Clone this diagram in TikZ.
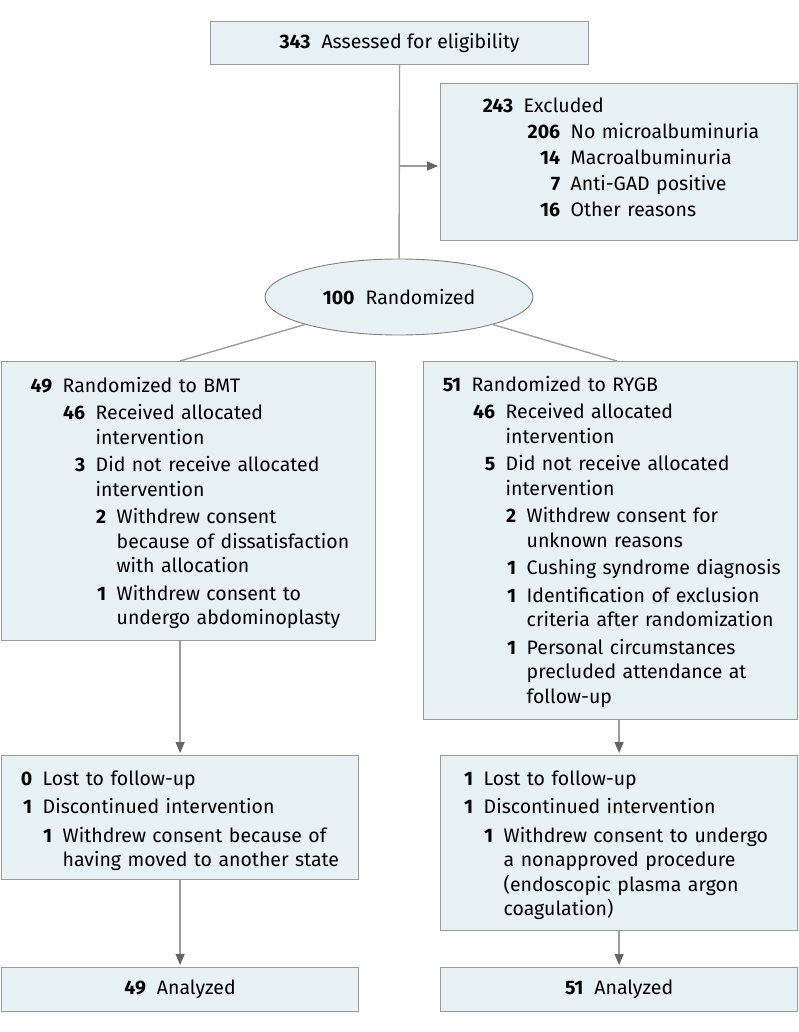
\documentclass[tikz,border=0pt]{standalone}
\usepackage{fontspec}
\setmainfont{Fira Sans}
\usetikzlibrary{shapes.geometric,arrows.meta}

\definecolor{boxfill}{HTML}{E8F1F4}
\definecolor{boxline}{HTML}{9A9A9A}
\definecolor{linkline}{HTML}{9E9E9E}
\definecolor{tipgray}{HTML}{656565}

\newcommand{\numgap}{10.5pt}
\newcommand{\entgap}{3pt}
% one counted line: right edge of the number, number, text
\newcommand{\ent}[3]{\hangindent=\dimexpr#1pt+\numgap\relax\hangafter=1%
  \noindent\hbox to #1pt{\hfill\bfseries #2}\hspace{\numgap}\ignorespaces#3\par\vspace{\entgap}}

\tikzset{
  box/.style={draw=boxline, fill=boxfill, line width=1.2pt, inner sep=0pt, anchor=north west},
  oval/.style={ellipse, draw=gray, fill=boxfill, line width=0.9pt, inner sep=0pt},
  txt/.style={inner sep=0pt, anchor=base west, align=left},
  link/.style={draw=linkline, line width=1.4pt},
  arr/.style={link, -{Triangle[length=11pt,width=9pt,color=tipgray]}, shorten >=2pt},
}

\begin{document}
\begin{tikzpicture}[x=1pt, y=-1pt, font=\fontsize{19.5}{24.5}\selectfont]
\useasboundingbox (0,0) rectangle (798,1032);

\node[box, minimum width=378, minimum height=43] (top) at (210,21) {\textbf{343}\hspace{11pt}Assessed for eligibility};
\node[box, minimum width=357, minimum height=157] (excl) at (440,83) {};
\node[txt, text width=350] (excl-t) at ([yshift=-30]excl.north west) {%
\renewcommand{\entgap}{1.5pt}%
\ent{73}{243}{Excluded}
\ent{120}{206}{No microalbuminuria}
\ent{120}{14}{Macroalbuminuria}
\ent{120}{7}{Anti-GAD positive}
\ent{120}{16}{Other reasons}};
\node[oval, minimum width=268, minimum height=76] (rand) at (399,297) {\textbf{100}\hspace{11pt}Randomized};

\node[box, minimum width=374, minimum height=279] (bmt) at (1,361) {};
\node[txt, text width=368] (bmt-t) at ([yshift=-31]bmt.north west) {%
\ent{51}{49}{Randomized to BMT}
\ent{84}{46}{Received allocated\newline intervention}
\ent{84}{3}{Did not receive allocated\newline intervention}
\ent{105}{2}{Withdrew consent\newline because of dissatisfaction\newline with allocation}
\ent{105}{1}{Withdrew consent to\newline undergo abdominoplasty}};

\node[box, minimum width=374, minimum height=358] (rygb) at (423,361) {};
\node[txt, text width=368] (rygb-t) at ([yshift=-30]rygb.north west) {%
\ent{38}{51}{Randomized to RYGB}
\ent{72}{46}{Received allocated\newline intervention}
\ent{72}{5}{Did not receive allocated\newline intervention}
\ent{93}{2}{Withdrew consent for\newline unknown reasons}
\ent{93}{1}{Cushing syndrome diagnosis}
\ent{93}{1}{Identification of exclusion\newline criteria after randomization}
\ent{93}{1}{Personal circumstances\newline precluded attendance at\newline follow-up}};

\node[box, minimum width=357, minimum height=124] (fu1) at (1,755) {};
\node[txt, text width=350] (fu1-t) at ([yshift=-30]fu1.north west) {%
\renewcommand{\entgap}{4pt}%
\ent{31}{0}{Lost to follow-up}
\ent{31}{1}{Discontinued intervention}
\ent{51}{1}{Withdrew consent because of\newline having moved to another state}};

\node[box, minimum width=357, minimum height=175] (fu2) at (440,755) {};
\node[txt, text width=350] (fu2-t) at ([yshift=-30]fu2.north west) {%
\renewcommand{\entgap}{4pt}%
\ent{33}{1}{Lost to follow-up}
\ent{33}{1}{Discontinued intervention}
\ent{53}{1}{Withdrew consent to undergo\newline a nonapproved procedure\newline (endoscopic plasma argon\newline coagulation)}};

\node[box, minimum width=357, minimum height=44] (an1) at (1,967) {\textbf{49}\hspace{11pt}Analyzed};
\node[box, minimum width=357, minimum height=44] (an2) at (440,967) {\textbf{51}\hspace{11pt}Analyzed};

\coordinate (split) at (399,166);
\draw[link] (top) -- (rand);
\draw[arr] (split) -- (excl.west |- split);
\draw[link] (rand) -- ([xshift=179]bmt.north west);
\draw[link] (rand) -- ([xshift=194]rygb.north west);
\draw[arr] (fu1.north |- bmt.south) -- (fu1.north);
\draw[arr] (fu2.north |- rygb.south) -- (fu2.north);
\draw[arr] (fu1) -- (an1);
\draw[arr] (fu2) -- (an2);
\end{tikzpicture}
\end{document}
